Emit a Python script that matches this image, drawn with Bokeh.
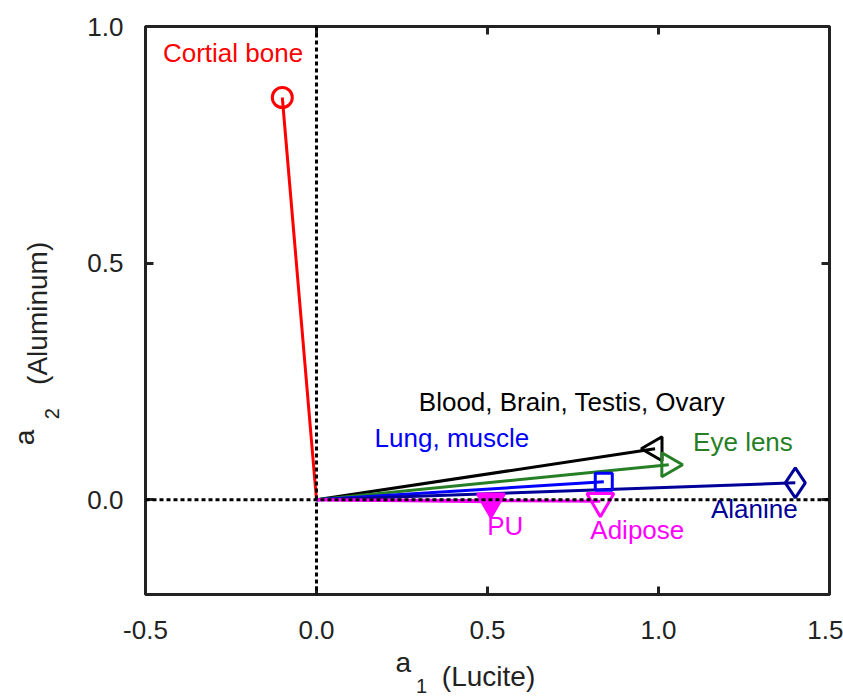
import math
from bokeh.plotting import figure
from bokeh.models import (Label, LinearAxis, FixedTicker, Range1d, Span, PrintfTickFormatter,
                          CustomJSTickFormatter, ColumnDataSource)
from bokeh.embed import file_html
from bokeh.resources import INLINE

# ---- data ----
names = ["Cortial bone", "Blood, Brain, Testis, Ovary", "Eye lens", "Lung, muscle",
         "Alanine", "PU", "Adipose"]
a1 = [-0.10, 0.99, 1.03, 0.84, 1.40, 0.51, 0.83]
a2 = [0.85, 0.108, 0.074, 0.038, 0.036, -0.004, -0.003]
colors = ["#ff0000", "#000000", "#267f26", "#0000ff", "#000099", "#ff00ff", "#ff00ff"]
markers = ["circle", "triangle", "triangle", "square", "diamond",
           "inverted_triangle", "inverted_triangle"]
angles = [0, math.pi / 2, -math.pi / 2, 0, 0, 0, 0]
sizes = [20, 24, 24, 17, 30, 27, 27]
fills = [None, None, None, None, None, "#ff00ff", None]
x_ticks = [-0.5, 0.0, 0.5, 1.0, 1.5]
y_ticks = [0.0, 0.5, 1.0]

FONT = "Liberation Sans"
INK = "#222222"

p = figure(width=843, height=699, output_backend="svg", toolbar_location=None,
           x_range=Range1d(-0.5, 1.5), y_range=Range1d(-0.2, 1.0),
           min_border_left=145, min_border_right=14, min_border_top=26, min_border_bottom=105)
p.xgrid.visible = False
p.ygrid.visible = False
p.outline_line_color = INK
p.outline_line_width = 3

def style_axis(ax, ticks, show_labels, standoff=22):
    ax.ticker = FixedTicker(ticks=ticks)
    ax.axis_line_color = None
    ax.major_tick_in = 8
    ax.major_tick_out = 0
    ax.major_tick_line_width = 3
    ax.major_tick_line_color = INK
    ax.minor_tick_line_color = None
    ax.major_label_text_font = FONT
    ax.major_label_text_color = INK
    if show_labels:
        ax.formatter = PrintfTickFormatter(format="%.1f")
        ax.major_label_text_font_size = "26px"
        ax.major_label_standoff = standoff
    else:
        ax.formatter = CustomJSTickFormatter(code="return ''")
        ax.major_label_standoff = 0

style_axis(p.xaxis[0], x_ticks, True, 26)
style_axis(p.yaxis[0], y_ticks, True, 22)
top = LinearAxis()
right = LinearAxis()
style_axis(top, x_ticks, False)
style_axis(right, y_ticks, False)
p.add_layout(top, "above")
p.add_layout(right, "right")

src = ColumnDataSource(dict(x0=[0.0] * len(a1), y0=[0.0] * len(a1), x=a1, y=a2,
                            color=colors, marker=markers, angle=angles, size=sizes,
                            fill=fills))
p.segment(x0="x0", y0="y0", x1="x", y1="y", line_color="color", line_width=3, source=src)
p.scatter(x="x", y="y", marker="marker", angle="angle", size="size", line_color="color",
          fill_color="fill", line_width=3, source=src)

for loc, dim in [(0.0, "width"), (0.0, "height")]:
    p.add_layout(Span(location=loc, dimension=dim, line_color="black", line_width=3,
                      line_dash="4 3"))

# point labels
label_specs = [
    ("Cortial bone", -0.449, 0.945, "left", "#ff0000"),
    ("Blood, Brain, Testis, Ovary", 0.747, 0.206, "center", "#000000"),
    ("Lung, muscle", 0.396, 0.131, "center", "#0000ff"),
    ("Eye lens", 1.247, 0.123, "center", "#267f26"),
    ("Alanine", 1.28, -0.019, "center", "#000099"),
    ("PU", 0.552, -0.055, "center", "#ff00ff"),
    ("Adipose", 0.938, -0.064, "center", "#ff00ff"),
]
for t, lx, ly, al, c in label_specs:
    p.add_layout(Label(x=lx, y=ly, text=t, text_align=al, text_baseline="middle",
                       text_color=c, text_font=FONT, text_font_size="26px"))

# axis titles: positioned in data units, hosted in side panels (so they are not clipped
# to the frame); the panel each one sits in is chosen only so the borders keep their size
titles = [
    # text, x, y, font size, angle, panel
    ("a", 0.254, -0.344, "28px", 0.0, "left"),
    ("1", 0.307, -0.394, "20px", 0.0, "right"),
    ("(Lucite)", 0.503, -0.373, "28px", 0.0, "below"),
    ("a", -0.854, 0.132, "28px", math.pi / 2, "left"),
    ("2", -0.772, 0.182, "20px", math.pi / 2, "above"),
    ("(Aluminum)", -0.816, 0.394, "28px", math.pi / 2, "left"),
]
for t, lx, ly, fs, ang, side in titles:
    p.add_layout(Label(x=lx, y=ly, text=t, angle=ang, text_align="center",
                       text_baseline="middle", text_color=INK, text_font=FONT,
                       text_font_size=fs), side)

open("out.html", "w").write(file_html(p, INLINE))
